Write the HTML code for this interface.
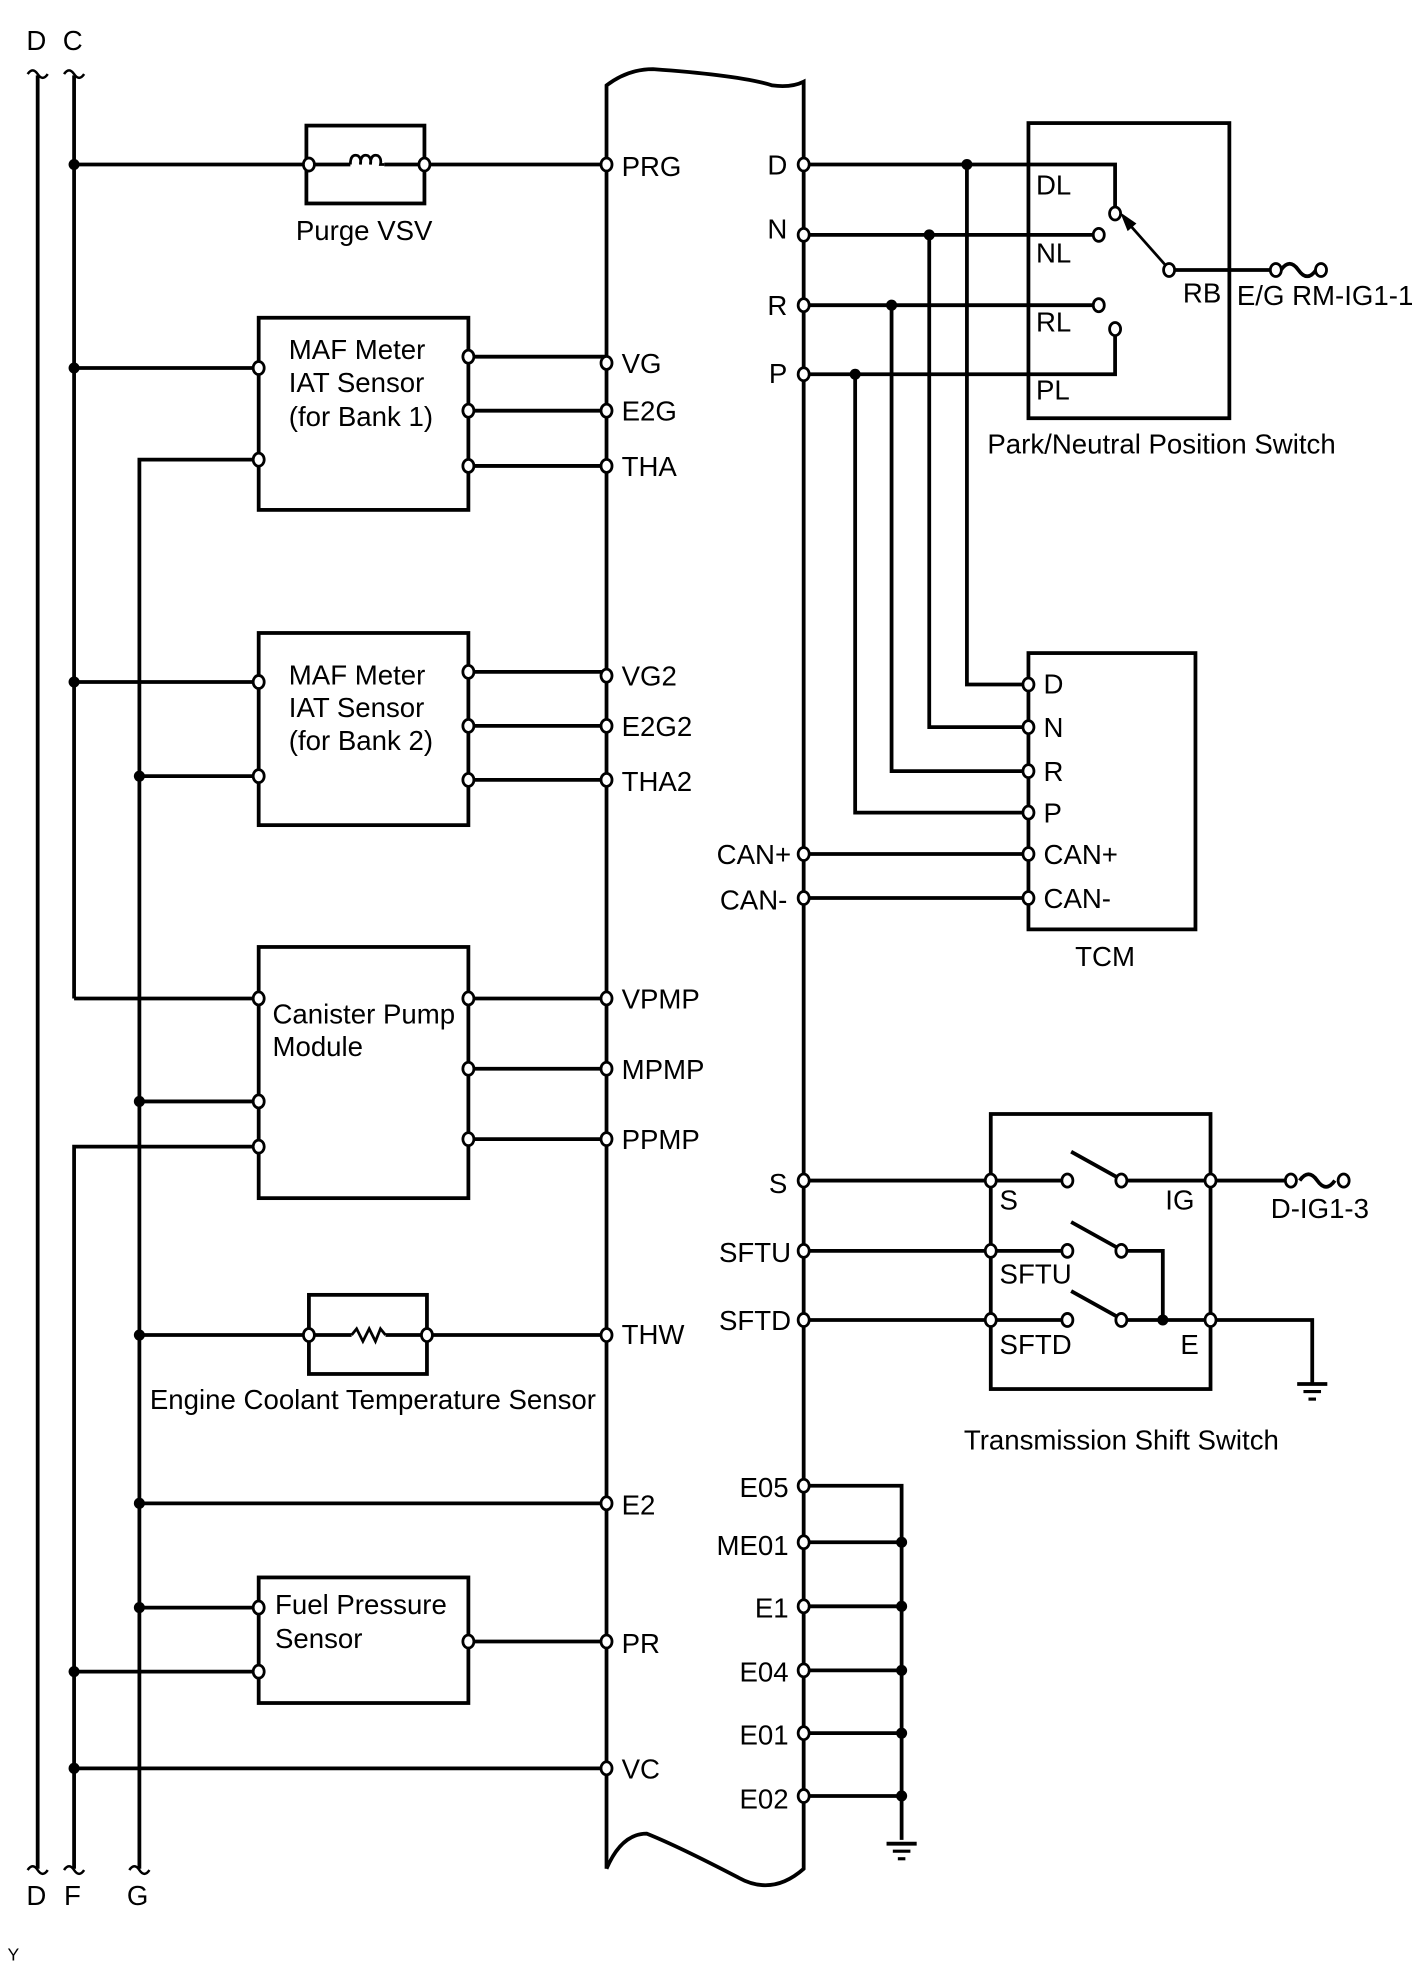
<!DOCTYPE html>
<html><head><meta charset="utf-8"><style>
html,body{margin:0;padding:0;background:#fff;}
svg{display:block;}
text{font-family:"Liberation Sans",sans-serif;font-size:22px;fill:#000;}
</style></head><body>
<svg width="1424" height="1963" viewBox="0 0 1134 1563" preserveAspectRatio="none" xmlns="http://www.w3.org/2000/svg">
<defs>
<g id="op"><ellipse cx="0" cy="0" rx="4.4" ry="5.2" fill="#fff" stroke="#000" stroke-width="2.2"/></g>
<g id="dt"><circle cx="0" cy="0" r="4.4" fill="#000"/></g>
<g id="sq"><path d="M-8,2 q4,-6 8,0 q4,6 8,0" fill="none" stroke="#000" stroke-width="2"/></g>
<g id="fs"><path d="M-14,0 q7,-10 14,0 q7,10 14,0" fill="none" stroke="#000" stroke-width="3"/></g>
<g id="gnd"><line x1="-12" y1="0" x2="12" y2="0" stroke="#000" stroke-width="3"/><line x1="-7" y1="6" x2="7" y2="6" stroke="#000" stroke-width="2.5"/><line x1="-3" y1="12" x2="3" y2="12" stroke="#000" stroke-width="2.5"/></g>
</defs>
<g stroke="#000" stroke-width="3" fill="none">
<line x1="30" y1="60" x2="30" y2="1488"/>
<line x1="59" y1="60" x2="59" y2="795"/>
<polyline points="59,795 206,795"/>
<polyline points="206,913 59,913 59,1488"/>
<polyline points="206,366 111,366 111,1488"/>
<path d="M483,1488 L483,68 Q500,55 520,55 Q590,60 615,68 Q630,70 640,65 L640,1488 Q615,1510 588,1495 Q540,1470 515,1460 Q495,1460 483,1488"/>
<line x1="59" y1="131" x2="246" y2="131"/><line x1="338" y1="131" x2="483" y2="131"/>
<line x1="246" y1="131" x2="279" y2="131"/><line x1="306" y1="131" x2="338" y2="131"/>
<rect x="244" y="100" width="94" height="62"/>
<line x1="59" y1="293" x2="206" y2="293"/>
<line x1="373" y1="284" x2="483" y2="284"/><line x1="373" y1="327" x2="483" y2="327"/><line x1="373" y1="371" x2="483" y2="371"/>
<rect x="206" y="253" width="167" height="153"/>
<line x1="59" y1="543" x2="206" y2="543"/><line x1="111" y1="618" x2="206" y2="618"/>
<line x1="373" y1="535" x2="483" y2="535"/><line x1="373" y1="578" x2="483" y2="578"/><line x1="373" y1="621" x2="483" y2="621"/>
<rect x="206" y="504" width="167" height="153"/>
<line x1="111" y1="877" x2="206" y2="877"/>
<line x1="373" y1="795" x2="483" y2="795"/><line x1="373" y1="851" x2="483" y2="851"/><line x1="373" y1="907" x2="483" y2="907"/>
<rect x="206" y="754" width="167" height="200"/>
<line x1="111" y1="1063" x2="246" y2="1063"/><line x1="340" y1="1063" x2="483" y2="1063"/>
<line x1="246" y1="1063" x2="280" y2="1063"/><line x1="307" y1="1063" x2="340" y2="1063"/>
<rect x="246" y="1031" width="94" height="63"/>
<line x1="111" y1="1197" x2="483" y2="1197"/>
<line x1="111" y1="1280" x2="206" y2="1280"/><line x1="59" y1="1331" x2="206" y2="1331"/>
<line x1="373" y1="1307" x2="483" y2="1307"/>
<rect x="206" y="1256" width="167" height="100"/>
<line x1="59" y1="1408" x2="483" y2="1408"/>
<rect x="819" y="98" width="160" height="235"/>
<polyline points="640,131 888,131 888,166"/>
<line x1="640" y1="187" x2="871" y2="187"/>
<line x1="640" y1="243" x2="871" y2="243"/>
<polyline points="640,298 888,298 888,266"/>
<line x1="931" y1="215" x2="1016" y2="215"/>
<line x1="928" y1="211" x2="897" y2="176" stroke-width="2.2"/>
<polyline points="770,131 770,545 819,545"/>
<polyline points="740,187 740,579 819,579"/>
<polyline points="710,243 710,614 819,614"/>
<polyline points="681,298 681,647 819,647"/>
<line x1="640" y1="680" x2="819" y2="680"/>
<line x1="640" y1="715" x2="819" y2="715"/>
<rect x="819" y="520" width="133" height="220"/>
<rect x="789" y="887" width="175" height="219"/>
<line x1="640" y1="940" x2="850" y2="940"/><line x1="640" y1="996" x2="850" y2="996"/><line x1="640" y1="1051" x2="850" y2="1051"/>
<line x1="893" y1="940" x2="1028" y2="940"/>
<polyline points="893,996 926,996 926,1051"/>
<line x1="893" y1="1051" x2="964" y2="1051"/>
<polyline points="964,1051 1045,1051 1045,1102"/>
<line x1="889" y1="937" x2="853" y2="917"/>
<line x1="889" y1="993" x2="853" y2="973"/>
<line x1="889" y1="1048" x2="853" y2="1028"/>
<polyline points="640,1183 718,1183 718,1465"/>
<line x1="640" y1="1228" x2="718" y2="1228"/><line x1="640" y1="1279" x2="718" y2="1279"/><line x1="640" y1="1330" x2="718" y2="1330"/><line x1="640" y1="1380" x2="718" y2="1380"/><line x1="640" y1="1430" x2="718" y2="1430"/>
</g>
<path d="M279,131 q0,-9 6,-7 q3,2 2,7 q0,-9 6,-7 q3,2 2,7 q0,-9 6,-7 q3,2 2,7 l3,0" fill="none" stroke="#000" stroke-width="2.2"/>
<polyline points="280,1063 284,1058 289,1068 294,1058 299,1068 303,1058 307,1063" fill="none" stroke="#000" stroke-width="2.2"/>
<polygon points="892,169 905,178 898,184" fill="#000"/>
<use href="#fs" x="1034" y="215"/><use href="#fs" x="1049" y="940"/>
<use href="#op" x="1016" y="215"/><use href="#op" x="1052" y="215"/>
<use href="#op" x="1028" y="940"/><use href="#op" x="1070" y="940"/>
<use href="#sq" x="30" y="57"/><use href="#sq" x="59" y="57"/>
<use href="#sq" x="30" y="1487"/><use href="#sq" x="59" y="1487"/><use href="#sq" x="111" y="1487"/>
<use href="#gnd" x="1045" y="1102"/><use href="#gnd" x="718" y="1468"/>
<use href="#dt" x="59" y="131"/><use href="#dt" x="59" y="293"/><use href="#dt" x="59" y="543"/>
<use href="#dt" x="111" y="618"/><use href="#dt" x="111" y="877"/><use href="#dt" x="111" y="1063"/><use href="#dt" x="111" y="1197"/><use href="#dt" x="111" y="1280"/>
<use href="#dt" x="59" y="1331"/><use href="#dt" x="59" y="1408"/>
<use href="#dt" x="770" y="131"/><use href="#dt" x="740" y="187"/><use href="#dt" x="710" y="243"/><use href="#dt" x="681" y="298"/>
<use href="#dt" x="926" y="1051"/>
<use href="#dt" x="718" y="1228"/><use href="#dt" x="718" y="1279"/><use href="#dt" x="718" y="1330"/><use href="#dt" x="718" y="1380"/><use href="#dt" x="718" y="1430"/>
<use href="#op" x="246" y="131"/><use href="#op" x="338" y="131"/><use href="#op" x="483" y="131"/>
<use href="#op" x="206" y="293"/><use href="#op" x="206" y="366"/>
<use href="#op" x="373" y="284"/><use href="#op" x="373" y="327"/><use href="#op" x="373" y="371"/>
<use href="#op" x="483" y="289"/><use href="#op" x="483" y="327"/><use href="#op" x="483" y="371"/>
<use href="#op" x="206" y="543"/><use href="#op" x="206" y="618"/>
<use href="#op" x="373" y="535"/><use href="#op" x="373" y="578"/><use href="#op" x="373" y="621"/>
<use href="#op" x="483" y="538"/><use href="#op" x="483" y="578"/><use href="#op" x="483" y="621"/>
<use href="#op" x="206" y="795"/><use href="#op" x="206" y="877"/><use href="#op" x="206" y="913"/>
<use href="#op" x="373" y="795"/><use href="#op" x="373" y="851"/><use href="#op" x="373" y="907"/>
<use href="#op" x="483" y="795"/><use href="#op" x="483" y="851"/><use href="#op" x="483" y="907"/>
<use href="#op" x="246" y="1063"/><use href="#op" x="340" y="1063"/><use href="#op" x="483" y="1063"/>
<use href="#op" x="483" y="1197"/>
<use href="#op" x="206" y="1280"/><use href="#op" x="206" y="1331"/><use href="#op" x="373" y="1307"/><use href="#op" x="483" y="1307"/>
<use href="#op" x="483" y="1408"/>
<use href="#op" x="640" y="131"/><use href="#op" x="640" y="187"/><use href="#op" x="640" y="243"/><use href="#op" x="640" y="298"/>
<use href="#op" x="888" y="170"/><use href="#op" x="875" y="187"/><use href="#op" x="875" y="243"/><use href="#op" x="888" y="262"/><use href="#op" x="931" y="215"/>
<use href="#op" x="819" y="545"/><use href="#op" x="819" y="579"/><use href="#op" x="819" y="614"/><use href="#op" x="819" y="647"/><use href="#op" x="819" y="680"/><use href="#op" x="819" y="715"/>
<use href="#op" x="640" y="680"/><use href="#op" x="640" y="715"/>
<use href="#op" x="640" y="940"/><use href="#op" x="640" y="996"/><use href="#op" x="640" y="1051"/>
<use href="#op" x="789" y="940"/><use href="#op" x="789" y="996"/><use href="#op" x="789" y="1051"/>
<use href="#op" x="850" y="940"/><use href="#op" x="850" y="996"/><use href="#op" x="850" y="1051"/>
<use href="#op" x="893" y="940"/><use href="#op" x="893" y="996"/><use href="#op" x="893" y="1051"/>
<use href="#op" x="964" y="940"/><use href="#op" x="964" y="1051"/>
<use href="#op" x="640" y="1183"/><use href="#op" x="640" y="1228"/><use href="#op" x="640" y="1279"/><use href="#op" x="640" y="1330"/><use href="#op" x="640" y="1380"/><use href="#op" x="640" y="1430"/>
<text x="21" y="40">D</text><text x="50" y="40">C</text>
<text x="21" y="1517">D</text><text x="51" y="1517">F</text><text x="101" y="1517">G</text>
<text x="6" y="1561" style="font-size:14px">Y</text>
<text x="290" y="191" text-anchor="middle">Purge VSV</text>
<text x="230" y="286">MAF Meter</text><text x="230" y="312">IAT Sensor</text><text x="230" y="339">(for Bank 1)</text>
<text x="230" y="545">MAF Meter</text><text x="230" y="571">IAT Sensor</text><text x="230" y="597">(for Bank 2)</text>
<text x="217" y="815">Canister Pump</text><text x="217" y="841">Module</text>
<text x="297" y="1122" text-anchor="middle">Engine Coolant Temperature Sensor</text>
<text x="219" y="1285">Fuel Pressure</text><text x="219" y="1312">Sensor</text>
<text x="495" y="140">PRG</text><text x="495" y="297">VG</text><text x="495" y="335">E2G</text><text x="495" y="379">THA</text>
<text x="495" y="546">VG2</text><text x="495" y="586">E2G2</text><text x="495" y="630">THA2</text>
<text x="495" y="803">VPMP</text><text x="495" y="859">MPMP</text><text x="495" y="915">PPMP</text>
<text x="495" y="1070">THW</text><text x="495" y="1206">E2</text><text x="495" y="1316">PR</text><text x="495" y="1416">VC</text>
<g text-anchor="end">
<text x="627" y="139">D</text><text x="627" y="190">N</text><text x="627" y="251">R</text><text x="627" y="305">P</text>
<text x="630" y="688">CAN+</text><text x="627" y="724">CAN-</text>
<text x="627" y="950">S</text><text x="630" y="1005">SFTU</text><text x="630" y="1059">SFTD</text>
<text x="628" y="1192">E05</text><text x="628" y="1238">ME01</text><text x="628" y="1288">E1</text><text x="628" y="1339">E04</text><text x="628" y="1389">E01</text><text x="628" y="1440">E02</text>
</g>
<text x="825" y="155">DL</text><text x="825" y="209">NL</text><text x="825" y="264">RL</text><text x="825" y="318">PL</text>
<text x="942" y="241">RB</text><text x="985" y="243">E/G RM-IG1-1</text>
<text x="925" y="361" text-anchor="middle">Park/Neutral Position Switch</text>
<text x="831" y="552">D</text><text x="831" y="587">N</text><text x="831" y="622">R</text><text x="831" y="655">P</text><text x="831" y="688">CAN+</text><text x="831" y="723">CAN-</text>
<text x="880" y="769" text-anchor="middle">TCM</text>
<text x="796" y="963">S</text><text x="928" y="963">IG</text><text x="796" y="1022">SFTU</text><text x="796" y="1078">SFTD</text><text x="940" y="1078">E</text>
<text x="1012" y="970">D-IG1-3</text>
<text x="893" y="1154" text-anchor="middle">Transmission Shift Switch</text>
</svg>
</body></html>
